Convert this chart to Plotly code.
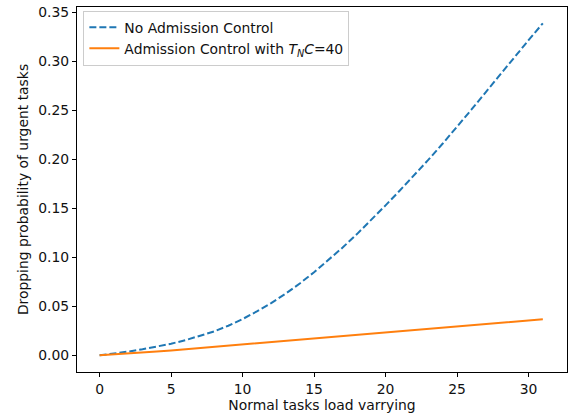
import plotly.graph_objects as go

# Data
load = list(range(0, 32))
no_admission = [0.0000, 0.0016, 0.0038, 0.0062, 0.0088, 0.0118, 0.0155, 0.0196,
                0.0243, 0.0302, 0.0370, 0.0448, 0.0533, 0.0628, 0.0733, 0.0848,
                0.0970, 0.1100, 0.1237, 0.1381, 0.1530, 0.1682, 0.1836, 0.1996,
                0.2161, 0.2331, 0.2506, 0.2684, 0.2864, 0.3040, 0.3215, 0.3388]
with_admission = [0.0000, 0.0008, 0.0017, 0.0027, 0.0038, 0.0050, 0.0062, 0.0074,
                  0.0087, 0.0100, 0.0113, 0.0126, 0.0139, 0.0152, 0.0164, 0.0177,
                  0.0189, 0.0201, 0.0213, 0.0225, 0.0237, 0.0249, 0.0261, 0.0273,
                  0.0285, 0.0296, 0.0308, 0.0320, 0.0332, 0.0344, 0.0356, 0.0367]

series_names = ["No Admission Control",
                "Admission Control with <i>T</i><sub><i>N</i></sub><i>C</i>=40"]
x_title = "Normal tasks load varrying"
y_title = "Dropping probability of urgent tasks"

font = "DejaVu Sans"
fsize = 13.9
tcolor = "#111"

fig = go.Figure()
fig.add_trace(go.Scatter(x=load, y=no_admission, mode="lines", name=series_names[0],
                         line=dict(color="#1f77b4", width=2, dash="7px,3px")))
fig.add_trace(go.Scatter(x=load, y=with_admission, mode="lines", name=series_names[1],
                         line=dict(color="#ff7f0e", width=2)))

axis_common = dict(showline=True, linecolor="black", linewidth=1, mirror=True,
                   ticks="outside", ticklen=4, tickwidth=1, tickcolor="black",
                   showgrid=False, zeroline=False, automargin=False,
                   tickfont=dict(family=font, size=fsize, color=tcolor))

fig.update_xaxes(range=[-1.58, 32.69], tick0=0, dtick=5,
                 title=dict(text=x_title, font=dict(family=font, size=fsize, color=tcolor), standoff=2),
                 **axis_common)
fig.update_yaxes(range=[-0.017, 0.3554], tick0=0, dtick=0.05, tickformat=".2f",
                 title=dict(text=y_title, font=dict(family=font, size=fsize, color=tcolor), standoff=6),
                 **axis_common)

fig.update_layout(
    width=570, height=418,
    margin=dict(l=77, r=3, t=7, b=46, autoexpand=False),
    paper_bgcolor="white", plot_bgcolor="white",
    font=dict(family=font, size=fsize, color=tcolor),
    showlegend=True,
    legend=dict(x=0.013, y=0.99, xanchor="left", yanchor="top",
                bgcolor="rgba(255,255,255,0.8)", bordercolor="#cccccc", borderwidth=1,
                font=dict(family=font, size=fsize, color=tcolor),
                tracegroupgap=0, itemwidth=30),
)

fig.write_html("out.html",
               config={"displayModeBar": False},
               post_script="document.body.style.margin='0';document.body.style.overflow='hidden';")
